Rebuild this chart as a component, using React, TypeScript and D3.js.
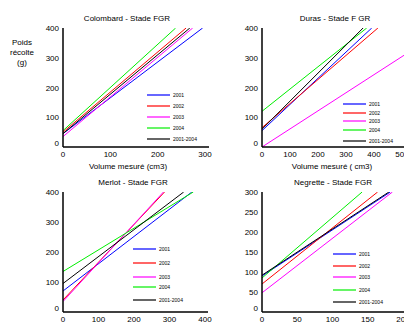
import React, { useEffect, useRef } from 'react';
import * as d3 from 'd3';

// Series names and colours shared by all four panels
const seriesNames = ['2001', '2002', '2003', '2004', '2001-2004'];
const seriesColors = ['#0000ff', '#ff0000', '#ff00ff', '#00ee00', '#000000'];

// Regression lines: [x0, y0, x1, y1] per series
const colombardLines = [
  [0, 45, 295, 400],
  [0, 50, 260, 400],
  [0, 35, 274, 400],
  [0, 55, 238, 400],
  [0, 45, 268, 400],
];
const durasLines = [
  [0, 55, 392, 400],
  [0, 65, 414, 400],
  [0, 0, 510, 310],
  [0, 120, 374, 400],
  [0, 60, 361, 400],
];
const merlotLines = [
  [0, 70, 363, 400],
  [0, 40, 286, 400],
  [0, 35, 283, 400],
  [0, 135, 367, 400],
  [0, 95, 340, 400],
];
const negretteLines = [
  [0, 90, 182, 300],
  [0, 70, 164, 300],
  [0, 48, 185, 300],
  [0, 85, 142, 300],
  [0, 92, 180, 300],
];

const xTicks400 = [0, 100, 200, 300];
const xTicksDuras = [0, 100, 200, 300, 400, 500];
const xTicksMerlot = [0, 100, 200, 300, 400];
const xTicksNegrette = [0, 50, 100, 150, 200];
const yTicks400 = [0, 100, 200, 300, 400];
const yTicks300 = [0, 50, 100, 150, 200, 250, 300];

const xLabel = 'Volume mesuré (cm3)';
const xLabelDuras = 'Volume mesuré ( cm3)';

interface Panel {
  title: string;
  lines: number[][];
  xMax: number;
  yMax: number;
  xTicks: number[];
  yTicks: number[];
  xLabel: string;
  left: number;
  right: number;
  top: number;
  bottom: number;
  axisEnd: number;
  titleX: number;
  labelX: number;
  legendX: number;
  legendY: number[];
}

const panels: Panel[] = [
  {
    title: 'Colombard - Stade FGR', lines: colombardLines, xMax: 300, yMax: 400,
    xTicks: xTicks400, yTicks: yTicks400, xLabel,
    left: 63, right: 205, top: 28, bottom: 147, axisEnd: 209,
    titleX: 127, labelX: 128,
    legendX: 147, legendY: [95, 106, 117, 128, 139],
  },
  {
    title: 'Duras - Stade F GR', lines: durasLines, xMax: 500, yMax: 400,
    xTicks: xTicksDuras, yTicks: yTicks400, xLabel: xLabelDuras,
    left: 262, right: 402, top: 28, bottom: 147, axisEnd: 410,
    titleX: 335, labelX: 332,
    legendX: 343, legendY: [104, 113, 121, 130, 141],
  },
  {
    title: 'Merlot - Stade FGR', lines: merlotLines, xMax: 400, yMax: 400,
    xTicks: xTicksMerlot, yTicks: yTicks400, xLabel,
    left: 63, right: 205, top: 192, bottom: 312, axisEnd: 208,
    titleX: 133, labelX: 133,
    legendX: 133, legendY: [249, 263, 277, 287, 300],
  },
  {
    title: 'Negrette - Stade FGR', lines: negretteLines, xMax: 200, yMax: 300,
    xTicks: xTicksNegrette, yTicks: yTicks300, xLabel,
    left: 262, right: 403, top: 192, bottom: 312, axisEnd: 410,
    titleX: 333, labelX: 333,
    legendX: 333, legendY: [254, 266, 277, 290, 302],
  },
];

const App: React.FC = () => {
  const svgRef = useRef<SVGSVGElement>(null);

  useEffect(() => {
    const svg = d3.select(svgRef.current);
    svg.selectAll('*').remove();
    const font = 'Arial, "Liberation Sans", sans-serif';

    panels.forEach((p, i) => {
      const xScale = d3.scaleLinear().domain([0, p.xMax]).range([p.left, p.right]);
      const yScale = d3.scaleLinear().domain([0, p.yMax]).range([p.bottom, p.top]);
      const g = svg.append('g');
      const clipId = `clip-${i}`;

      svg.append('clipPath').attr('id', clipId)
        .append('rect')
        .attr('x', p.left)
        .attr('y', p.top)
        .attr('width', p.axisEnd - p.left)
        .attr('height', p.bottom - p.top);

      // Regression lines
      const lineG = g.append('g').attr('clip-path', `url(#${clipId})`);
      p.lines.forEach((l, k) => {
        lineG.append('line')
          .attr('x1', xScale(l[0]))
          .attr('y1', yScale(l[1]))
          .attr('x2', xScale(l[2]))
          .attr('y2', yScale(l[3]))
          .attr('stroke', seriesColors[k])
          .attr('stroke-width', 1);
      });

      // Axes (no tick marks, only labels)
      g.append('line')
        .attr('x1', p.left).attr('x2', p.left)
        .attr('y1', p.top).attr('y2', p.bottom)
        .attr('stroke', '#000').attr('stroke-width', 1.5);
      g.append('line')
        .attr('x1', p.left).attr('x2', p.axisEnd)
        .attr('y1', p.bottom).attr('y2', p.bottom)
        .attr('stroke', '#000').attr('stroke-width', 1.5);

      g.selectAll('.yt')
        .data(p.yTicks)
        .enter().append('text')
        .attr('x', p.left - 4)
        .attr('y', d => (d === 0 ? yScale(d) - 1 : yScale(d) + 3))
        .attr('text-anchor', 'end')
        .attr('font-size', 8)
        .attr('font-family', font)
        .text(d => d);

      g.selectAll('.xt')
        .data(p.xTicks)
        .enter().append('text')
        .attr('x', d => xScale(d))
        .attr('y', p.bottom + 10)
        .attr('text-anchor', 'middle')
        .attr('font-size', 8)
        .attr('font-family', font)
        .text(d => d);

      // Title and x label
      g.append('text')
        .attr('x', p.titleX)
        .attr('y', p.top - 7)
        .attr('text-anchor', 'middle')
        .attr('font-size', 8)
        .attr('font-family', font)
        .text(p.title);
      g.append('text')
        .attr('x', p.labelX)
        .attr('y', p.bottom + 22)
        .attr('text-anchor', 'middle')
        .attr('font-size', 8)
        .attr('font-family', font)
        .text(p.xLabel);

      // Legend
      seriesNames.forEach((name, k) => {
        g.append('line')
          .attr('x1', p.legendX).attr('x2', p.legendX + 23)
          .attr('y1', p.legendY[k]).attr('y2', p.legendY[k])
          .attr('stroke', seriesColors[k])
          .attr('stroke-width', 1.2);
        g.append('text')
          .attr('x', p.legendX + 26)
          .attr('y', p.legendY[k] + 2)
          .attr('font-size', 5)
          .attr('font-family', font)
          .text(name);
      });
    });

    // Y axis label (first panel only)
    ['Poids', 'récolte', '(g)'].forEach((t, k) => {
      svg.append('text')
        .attr('x', 22)
        .attr('y', 45 + k * 10)
        .attr('text-anchor', 'middle')
        .attr('font-size', 8)
        .attr('font-family', font)
        .text(t);
    });
  }, []);

  return (
    <svg
      ref={svgRef}
      width={404}
      height={329}
      style={{ position: 'absolute', left: 0, top: 0, background: '#fff' }}
    />
  );
};

export default App;
